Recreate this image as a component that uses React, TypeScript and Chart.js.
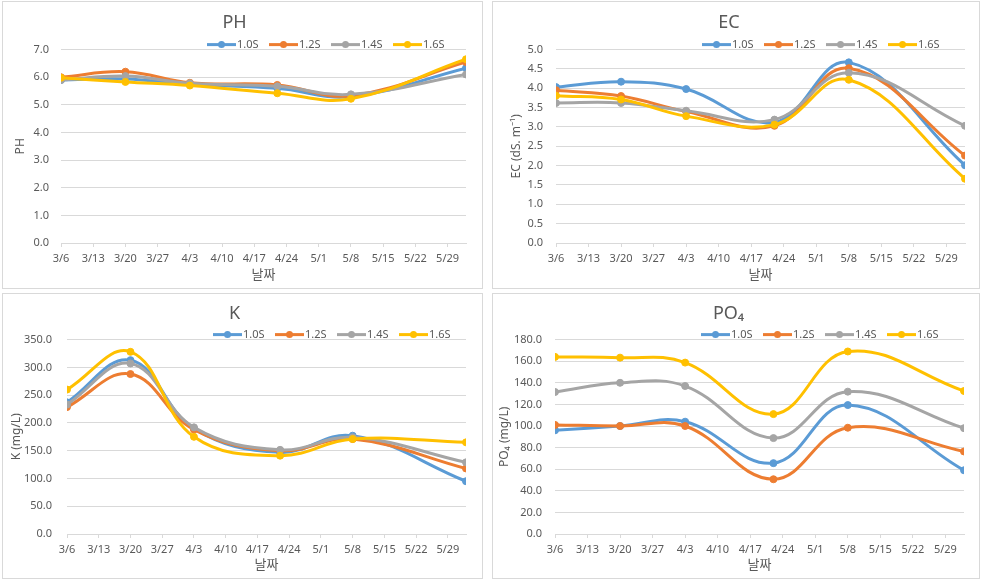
import React, { useEffect, useRef } from 'react';
import { Chart, registerables } from 'chart.js';

Chart.register(...registerables);

// ---- data ----
const sampleDates = ['3/6', '3/20', '4/3', '4/22', '5/8', '6/2'];
const tickDates = ['3/6', '3/13', '3/20', '3/27', '4/3', '4/10', '4/17', '4/24', '5/1', '5/8', '5/15', '5/22', '5/29'];
const seriesNames = ['1.0S', '1.2S', '1.4S', '1.6S'];

const ph10 = [5.9, 5.94, 5.75, 5.6, 5.3, 6.33];
const ph12 = [6.0, 6.2, 5.8, 5.72, 5.33, 6.55];
const ph14 = [5.9, 6.04, 5.78, 5.67, 5.38, 6.1];
const ph16 = [5.98, 5.83, 5.7, 5.42, 5.22, 6.65];

const ec10 = [4.03, 4.17, 3.98, 3.12, 4.67, 2.01];
const ec12 = [3.95, 3.8, 3.4, 3.03, 4.52, 2.26];
const ec14 = [3.62, 3.62, 3.42, 3.19, 4.4, 3.03];
const ec16 = [3.81, 3.71, 3.28, 3.06, 4.22, 1.66];

const k10 = [237, 313, 190, 147, 177, 95];
const k12 = [228.5, 288, 188, 150, 171, 118];
const k14 = [233, 307, 192, 151.5, 174, 129];
const k16 = [260, 328, 175, 141, 171, 165];

const po10 = [96, 100, 104, 65.6, 119.4, 59];
const po12 = [101, 100, 100, 50.7, 98.4, 76.4];
const po14 = [131.5, 140, 137, 88.8, 131.8, 98];
const po16 = [164, 163.3, 158.7, 111, 169, 132.4];

// ---- style ----
const seriesColors = ['#5B9BD5', '#ED7D31', '#A5A5A5', '#FFC000'];
const TEXT = '#595959';
const GRID = '#d9d9d9';
const FONT = '"Noto Sans", "Noto Sans CJK KR", sans-serif';

function dayOffset(md: string): number {
  const [m, d] = md.split('/').map(Number);
  return Math.round((Date.UTC(2019, m - 1, d) - Date.UTC(2019, 2, 6)) / 86400000);
}

const sampleDays = sampleDates.map(dayOffset);
const tickDays = tickDates.map(dayOffset);

const legendPlugin = {
  id: 'excelLegend',
  afterDraw(chart: any) {
    const ctx = chart.ctx;
    const area = chart.chartArea;
    const y = area.top - 5;
    const x0 = area.left + 146;
    ctx.save();
    ctx.font = '11px ' + FONT;
    ctx.textBaseline = 'middle';
    ctx.textAlign = 'left';
    chart.data.datasets.forEach((ds: any, i: number) => {
      const x = x0 + i * 62;
      ctx.strokeStyle = ds.borderColor;
      ctx.lineWidth = 3;
      ctx.beginPath();
      ctx.moveTo(x, y);
      ctx.lineTo(x + 29, y);
      ctx.stroke();
      ctx.fillStyle = ds.borderColor;
      ctx.beginPath();
      ctx.arc(x + 14.5, y, 3.5, 0, Math.PI * 2);
      ctx.fill();
      ctx.fillStyle = TEXT;
      ctx.fillText(ds.label, x + 30, y + 0.5);
    });
    ctx.restore();
  },
};

type PanelSpec = {
  left: number; top: number; width: number; height: number;
  title: string; yTitle: string; values: number[][]; yMax: number; yStep: number;
  axisWidth: number; yTitleOffset: number; yTickPad: number;
  titleTop: number; titleBottom: number; padRight: number; xAxisHeight: number;
};

function Panel(p: PanelSpec) {
  const ref = useRef<HTMLCanvasElement | null>(null);
  useEffect(() => {
    if (!ref.current) return;
    const datasets = p.values.map((vals, i) => ({
      label: seriesNames[i],
      data: vals.map((v, j) => ({ x: sampleDays[j], y: v })),
      borderColor: seriesColors[i],
      backgroundColor: seriesColors[i],
      pointBackgroundColor: seriesColors[i],
      pointBorderColor: seriesColors[i],
      borderWidth: 3,
      pointRadius: 3.5,
      pointBorderWidth: 1,
      tension: 0.4,
      fill: false,
      order: seriesNames.length - i,
    }));
    const chart = new Chart(ref.current, {
      type: 'line',
      data: { datasets },
      plugins: [legendPlugin],
      options: {
        animation: false,
        responsive: false,
        devicePixelRatio: 1,
        layout: { padding: { left: 0, right: p.padRight, top: 0, bottom: 0 } },
        plugins: {
          legend: { display: false },
          tooltip: { enabled: false },
          title: {
            display: true,
            text: p.title,
            color: TEXT,
            font: { family: FONT, size: 18, weight: 'normal' },
            padding: { top: p.titleTop, bottom: p.titleBottom },
          },
        },
        scales: {
          x: {
            type: 'linear',
            min: 0,
            max: sampleDays[sampleDays.length - 1],
            afterBuildTicks: (axis: any) => {
              axis.ticks = tickDays.map((v) => ({ value: v }));
            },
            afterFit: (scale: any) => {
              scale.height = p.xAxisHeight;
            },
            ticks: {
              color: TEXT,
              font: { family: FONT, size: 11 },
              padding: 5,
              maxRotation: 0,
              autoSkip: false,
              callback: (v: any) => {
                const idx = tickDays.indexOf(Number(v));
                return idx >= 0 ? tickDates[idx] : '';
              },
            },
            grid: { display: true, drawOnChartArea: false, drawTicks: true, tickLength: 4, color: GRID },
            border: { display: true, color: GRID },
            title: {
              display: true,
              text: '날짜',
              color: TEXT,
              font: { family: FONT, size: 13 },
              padding: { top: 2, bottom: 4.8 },
            },
          },
          y: {
            min: 0,
            max: p.yMax,
            afterFit: (scale: any) => {
              scale.width = p.axisWidth;
            },
            ticks: {
              stepSize: p.yStep,
              color: TEXT,
              font: { family: FONT, size: 11 },
              padding: p.yTickPad,
              callback: (v: any) => Number(v).toFixed(1),
            },
            grid: { color: GRID, drawTicks: false },
            border: { display: false },
            title: {
              display: true,
              text: p.yTitle,
              color: TEXT,
              font: { family: FONT, size: 12 },
              padding: { top: p.yTitleOffset, bottom: 0 },
            },
          },
        },
      },
    } as any);
    return () => chart.destroy();
  }, []);
  return (
    <div
      style={{
        position: 'absolute',
        left: p.left,
        top: p.top,
        width: p.width,
        height: p.height,
        border: '1px solid #d9d9d9',
        boxSizing: 'border-box',
        background: '#fff',
      }}
    >
      <canvas ref={ref} width={p.width - 2} height={p.height - 2} style={{ display: 'block' }} />
    </div>
  );
}

export default function App() {
  const panels: PanelSpec[] = [
    {
      left: 2, top: 1, width: 481, height: 288, title: 'PH', yTitle: 'PH',
      values: [ph10, ph12, ph14, ph16], yMax: 7, yStep: 1,
      axisWidth: 58, yTitleOffset: 10, yTickPad: 12, titleTop: 10, titleBottom: 16, padRight: 16, xAxisHeight: 45,
    },
    {
      left: 492, top: 1, width: 488, height: 288, title: 'EC', yTitle: 'EC (dS. m⁻¹)',
      values: [ec10, ec12, ec14, ec16], yMax: 5, yStep: 0.5,
      axisWidth: 63, yTitleOffset: 16.5, yTickPad: 13, titleTop: 10, titleBottom: 16, padRight: 14, xAxisHeight: 45,
    },
    {
      left: 2, top: 293, width: 481, height: 286, title: 'K', yTitle: 'K (mg/L)',
      values: [k10, k12, k14, k16], yMax: 350, yStep: 50,
      axisWidth: 64, yTitleOffset: 6, yTickPad: 15, titleTop: 9, titleBottom: 15, padRight: 16, xAxisHeight: 44,
    },
    {
      left: 492, top: 293, width: 488, height: 286, title: 'PO₄', yTitle: 'PO₄ (mg/L)',
      values: [po10, po12, po14, po16], yMax: 180, yStep: 20,
      axisWidth: 62, yTitleOffset: 4, yTickPad: 13, titleTop: 9, titleBottom: 15, padRight: 15, xAxisHeight: 44,
    },
  ];
  return (
    <div style={{ position: 'absolute', left: 0, top: 0, width: 981, height: 580, background: '#fff' }}>
      {panels.map((p, i) => (
        <Panel key={i} {...p} />
      ))}
    </div>
  );
}
